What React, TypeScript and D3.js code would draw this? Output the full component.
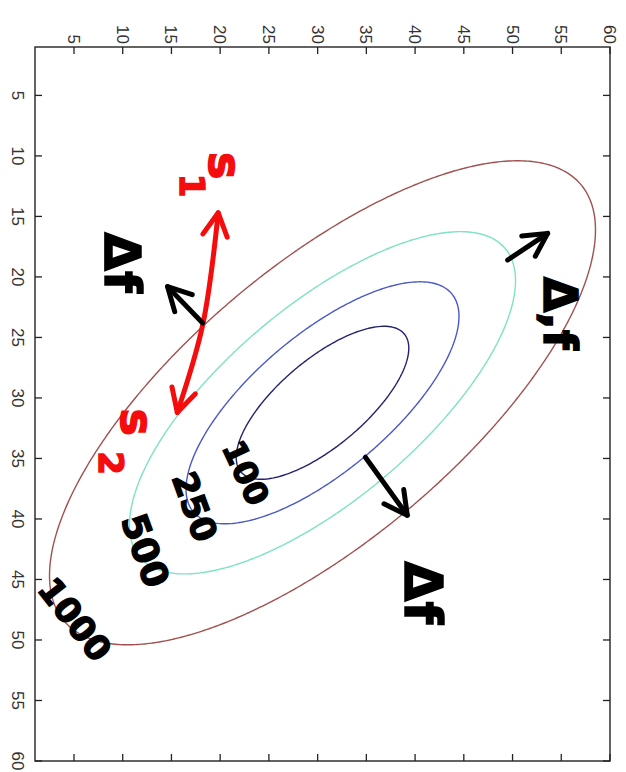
import * as d3 from "d3";

// axis ticks (top axis = u, left axis = v)
const U_TICKS = [5, 10, 15, 20, 25, 30, 35, 40, 45, 50, 55, 60];
const V_TICKS = [5, 10, 15, 20, 25, 30, 35, 40, 45, 50, 55, 60];
const DOMAIN = [1, 60];

// quadratic bowl f = a du^2 + 2b du dv + c dv^2
const CENTER = [30.5, 30.4];
const QUAD = [2.6, 2.6, 5.1];
const LEVELS = [100, 250, 500, 1000];
const LEVEL_COLORS = ["#23236e", "#4b58c6", "#7ee2c4", "#a0514f"];

// hand drawn overlay, in axis units
const ARROWS = [
  { pts: [[19.8, 14.7], [18.2, 24.0], [15.6, 31.2]], color: "#f50c0c", both: true },
  { pts: [[18.2, 23.8], [14.6, 20.8]], color: "#000", both: false },
  { pts: [[34.9, 34.9], [39.2, 39.7]], color: "#000", both: false },
  { pts: [[49.5, 18.6], [53.6, 16.4]], color: "#000", both: false },
];
const LABELS = [
  { text: "Δf", at: [9.9, 18.8], rot: 90, size: 50 },
  { text: "Δf", at: [40.8, 46.1], rot: 90, size: 52 },
  { text: "Δ,f", at: [54.9, 23.0], rot: 90, size: 46 },
  { text: "100", at: [22.6, 36.2], rot: 65, size: 32 },
  { text: "250", at: [17.4, 39.0], rot: 70, size: 34 },
  { text: "500", at: [12.3, 42.6], rot: 70, size: 36 },
  { text: "1000", at: [5.1, 48.3], rot: 52, size: 34 },
];
const SUBS = [
  { base: "s", sub: "1", at: [20.5, 10.8], off: [20, 33] },
  { base: "s", sub: "2", at: [11.5, 32.0], off: [41, 26] },
];

const W = 626;
const H = 772;
const M = { left: 35, right: 610, top: 47, bottom: 761 };
const STEP = 0.25;

export default function App() {
  const xs = d3.scaleLinear().domain(DOMAIN).range([M.left, M.right]);
  const ys = d3.scaleLinear().domain(DOMAIN).range([M.top, M.bottom]);

  // sample the bowl on a grid, negated so each level is a closed ring
  const n = Math.round((DOMAIN[1] - DOMAIN[0]) / STEP) + 1;
  const grid = new Array(n * n);
  for (let j = 0; j < n; j++) {
    for (let i = 0; i < n; i++) {
      const du = DOMAIN[0] + i * STEP - CENTER[0];
      const dv = DOMAIN[0] + j * STEP - CENTER[1];
      grid[j * n + i] = -(QUAD[0] * du * du + 2 * QUAD[1] * du * dv + QUAD[2] * dv * dv);
    }
  }
  const contours = d3.contours().size([n, n]).thresholds(LEVELS.map((l) => -l))(grid);
  const color = d3.scaleOrdinal<number, string>().domain(LEVELS).range(LEVEL_COLORS);
  const proj = d3.geoTransform({
    point(x: number, y: number) {
      this.stream.point(xs(DOMAIN[0] + (x - 0.5) * STEP), ys(DOMAIN[0] + (y - 0.5) * STEP));
    },
  });
  const geo = d3.geoPath(proj);

  const line = d3.line().curve(d3.curveCatmullRom);
  const head = (p: number[], q: number[]) => {
    const dx = p[0] - q[0];
    const dy = p[1] - q[1];
    const len = Math.hypot(dx, dy);
    const ux = -dx / len;
    const uy = -dy / len;
    const L = 26;
    const a = (28 * Math.PI) / 180;
    const r = (s: number) => [
      p[0] + L * (ux * Math.cos(s) - uy * Math.sin(s)),
      p[1] + L * (ux * Math.sin(s) + uy * Math.cos(s)),
    ];
    return `M${r(a).join(",")}L${p.join(",")}L${r(-a).join(",")}`;
  };

  const tickFont = { fontFamily: "Liberation Sans, Arial, sans-serif", fontSize: 17, fill: "#333" };
  const hand = { fontFamily: "DejaVu Sans, sans-serif", fontWeight: 700 };

  return (
    <svg width={W} height={H} style={{ position: "absolute", left: 0, top: 0, background: "#fff" }}>
      {/* contours */}
      {contours.map((c) => (
        <path key={c.value} d={geo(c) || ""} fill="none" stroke={color(-c.value)} strokeWidth={1.4} />
      ))}

      {/* frame */}
      <rect x={M.left} y={M.top} width={M.right - M.left} height={M.bottom - M.top}
        fill="none" stroke="#222" strokeWidth={1.4} />
      {U_TICKS.map((t) => (
        <g key={"u" + t}>
          <line x1={xs(t)} x2={xs(t)} y1={M.top} y2={M.top + 7} stroke="#222" strokeWidth={1.3} />
          <line x1={xs(t)} x2={xs(t)} y1={M.bottom} y2={M.bottom - 7} stroke="#222" strokeWidth={1.3} />
          <text transform={`translate(${xs(t)},44) rotate(90)`} textAnchor="end" dy="0.35em" {...tickFont}>
            {t}
          </text>
        </g>
      ))}
      {V_TICKS.map((t) => (
        <g key={"v" + t}>
          <line x1={M.left} x2={M.left + 7} y1={ys(t)} y2={ys(t)} stroke="#222" strokeWidth={1.3} />
          <line x1={M.right} x2={M.right - 7} y1={ys(t)} y2={ys(t)} stroke="#222" strokeWidth={1.3} />
          <text transform={`translate(18,${ys(t)}) rotate(90)`} textAnchor="middle" dy="0.35em" {...tickFont}>
            {t}
          </text>
        </g>
      ))}

      {/* hand drawn arrows */}
      {ARROWS.map((a, k) => {
        const pts = a.pts.map((p) => [xs(p[0]), ys(p[1])]) as [number, number][];
        const last = pts.length - 1;
        return (
          <g key={"a" + k} fill="none" stroke={a.color} strokeWidth={5} strokeLinecap="round" strokeLinejoin="round">
            <path d={line(pts) || ""} />
            <path d={head(pts[last], pts[last - 1])} />
            {a.both && <path d={head(pts[0], pts[1])} />}
          </g>
        );
      })}

      {/* hand written labels */}
      {LABELS.map((l, k) => (
        <text key={"l" + k} transform={`translate(${xs(l.at[0])},${ys(l.at[1])}) rotate(${l.rot})`}
          textAnchor="middle" dominantBaseline="central" fontSize={l.size} fill="#000"
          stroke="#000" strokeWidth={1.5} {...hand}>
          {l.text}
        </text>
      ))}
      {SUBS.map((s, k) => (
        <g key={"s" + k} transform={`translate(${xs(s.at[0])},${ys(s.at[1])}) rotate(90)`}
          fill="#f50c0c" stroke="#f50c0c" strokeWidth={1.5} {...hand}>
          <text textAnchor="middle" dominantBaseline="central" fontSize={46}>{s.base}</text>
          <text x={s.off[0]} y={s.off[1]} textAnchor="middle" dominantBaseline="central" fontSize={34}>
            {s.sub}
          </text>
        </g>
      ))}
    </svg>
  );
}
